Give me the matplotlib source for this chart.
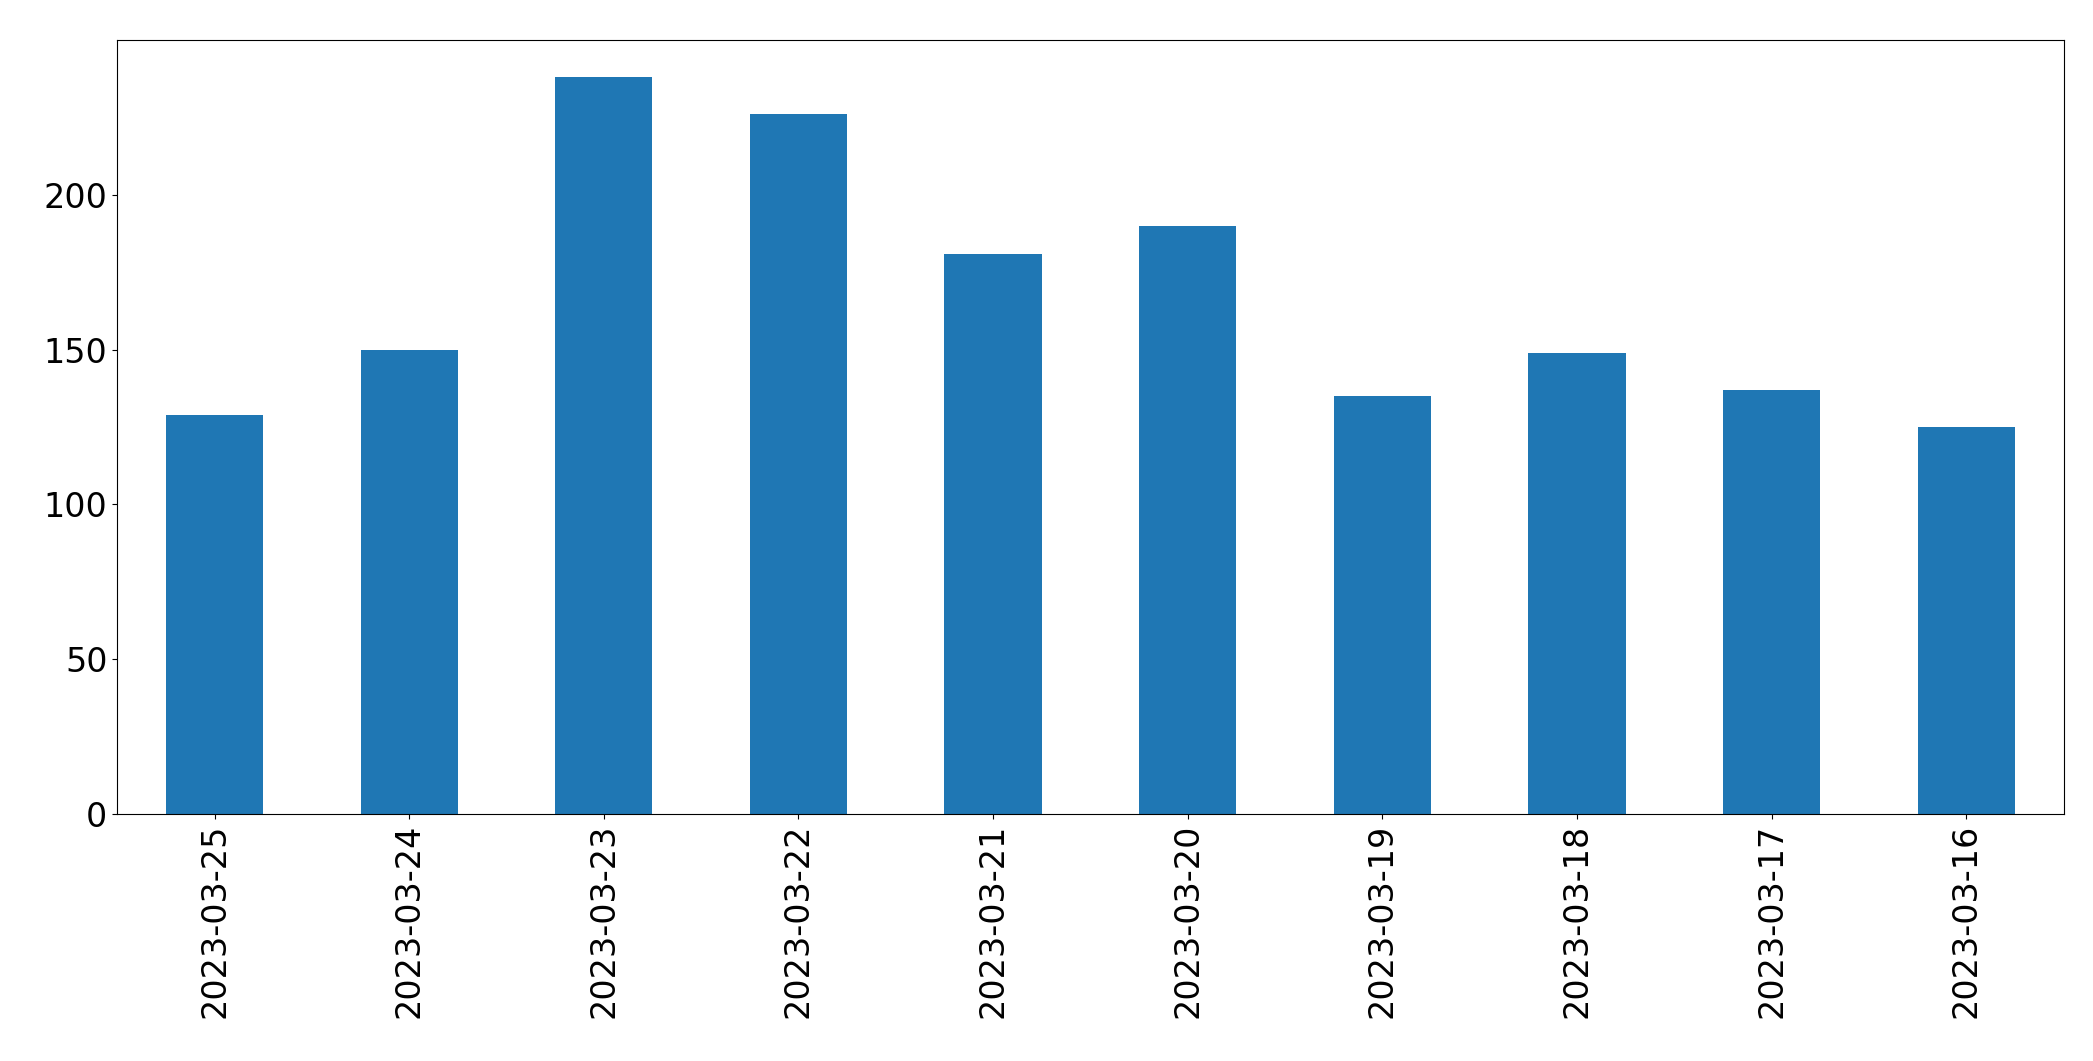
import matplotlib
matplotlib.use("Agg")
import matplotlib.pyplot as plt

dates = ["2023-03-25","2023-03-24","2023-03-23","2023-03-22","2023-03-21",
         "2023-03-20","2023-03-19","2023-03-18","2023-03-17","2023-03-16"]
values = [129, 150, 238, 226, 181, 190, 135, 149, 137, 125]

fig = plt.figure(figsize=(20.93, 10.61), dpi=100)
ax = fig.add_axes([0.056, 0.233, 0.930, 0.729])
x = range(len(dates))
ax.bar(x, values, width=0.5, color="#1f77b4")
ax.set_xticks(list(x))
ax.set_xticklabels(dates, rotation=90)
ax.set_xlim(-0.5, len(dates) - 0.5)
ax.tick_params(labelsize=24)
fig.savefig("out.png")
